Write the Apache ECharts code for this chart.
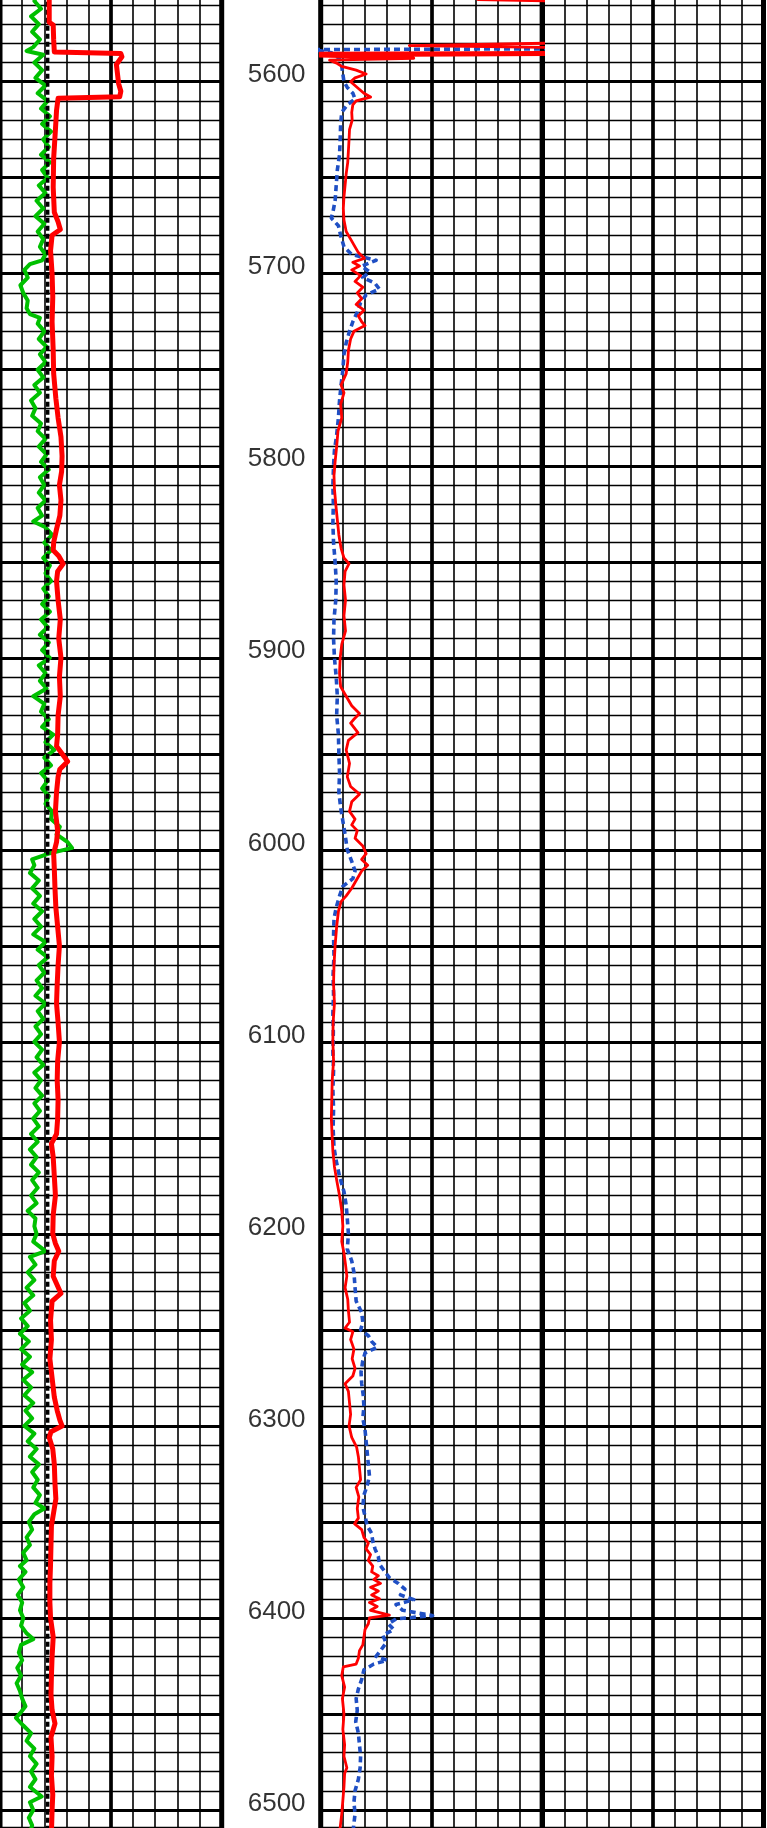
<!DOCTYPE html>
<html>
<head>
<meta charset="utf-8">
<script src="https://cdn.jsdelivr.net/npm/echarts@6/dist/echarts.min.js"></script>
<style>
  html, body { margin: 0; padding: 0; background: #fff; overflow: hidden; }
  body { position: relative; width: 767px; height: 1828px; }
  /* the log is cropped: the chart starts a little above the window */
  #chart { position: absolute; left: 0; top: -15px; width: 767px; height: 1846px; }
</style>
</head>
<body>
<div id="chart"></div>
<script>
// depth window of the grid (ft); the picture is cropped inside it
const depthTop = 5550
const depthBase = 6510
const depthMarks = [5600, 5700, 5800, 5900, 6000, 6100, 6200, 6300, 6400, 6500]

// all curves: [depth, value in chart divisions 0..10]
// track 1
const cutoffLine = [[5550, 2.15], [6510, 2.15]]
const track1Green = [
  [5554, 1.70], [5558, 1.55], [5562, 1.85], [5566, 1.40], [5570, 1.75], [5574, 1.45], [5578, 1.80], [5582, 1.50], [5584, 1.20], [5586, 1.95],
  [5590, 1.55], [5594, 1.90], [5598, 1.60], [5602, 2.05], [5606, 1.70], [5610, 2.15], [5614, 1.85], [5618, 2.25], [5622, 1.90], [5626, 2.30],
  [5630, 1.95], [5634, 2.20], [5638, 1.85], [5642, 2.25], [5646, 1.90], [5650, 2.15], [5654, 1.75], [5658, 2.05], [5662, 1.65], [5666, 1.95],
  [5670, 1.60], [5674, 2.00], [5678, 1.70], [5682, 1.95], [5686, 1.80], [5690, 2.05], [5693, 1.90], [5695, 1.35], [5698, 1.10], [5702, 1.25],
  [5706, 0.92], [5710, 1.05], [5714, 1.25], [5718, 1.20], [5721, 1.35], [5723, 1.80], [5726, 1.70], [5730, 2.00], [5734, 1.75], [5738, 2.10],
  [5742, 1.80], [5746, 2.05], [5750, 1.70], [5754, 1.95], [5758, 1.55], [5762, 1.80], [5766, 1.40], [5770, 1.60], [5774, 1.45], [5778, 1.85],
  [5782, 1.70], [5786, 2.05], [5790, 1.75], [5794, 2.10], [5798, 1.85], [5802, 2.20], [5806, 1.80], [5810, 2.00], [5814, 1.75], [5818, 2.05],
  [5822, 1.70], [5826, 1.90], [5829, 1.50], [5832, 2.05], [5836, 2.35], [5840, 2.00], [5844, 2.30], [5848, 1.95], [5852, 2.25], [5856, 2.05],
  [5860, 2.30], [5864, 1.95], [5868, 2.20], [5872, 1.90], [5876, 2.25], [5880, 1.85], [5884, 2.15], [5888, 1.80], [5892, 2.20], [5896, 1.90],
  [5900, 2.25], [5904, 1.75], [5908, 2.05], [5912, 1.80], [5916, 2.10], [5920, 1.50], [5924, 2.00], [5928, 1.85], [5932, 2.20], [5936, 1.90],
  [5940, 2.40], [5944, 2.05], [5948, 2.45], [5952, 2.00], [5956, 2.30], [5960, 1.85], [5964, 2.15], [5968, 1.90], [5972, 2.20], [5976, 2.05],
  [5980, 2.35], [5984, 2.30], [5988, 2.70], [5992, 2.55], [5996, 3.05], [5999, 3.25], [6002, 2.20], [6005, 1.45], [6008, 1.55], [6012, 1.35],
  [6016, 1.75], [6020, 1.45], [6024, 1.80], [6028, 1.50], [6032, 1.90], [6036, 1.55], [6040, 1.85], [6044, 1.50], [6048, 2.05], [6052, 1.70],
  [6056, 2.15], [6060, 1.75], [6064, 2.00], [6068, 1.65], [6072, 1.90], [6076, 1.60], [6080, 2.05], [6084, 1.70], [6088, 1.95], [6092, 1.60],
  [6096, 1.85], [6100, 1.55], [6104, 1.90], [6108, 1.65], [6112, 1.95], [6116, 1.55], [6120, 1.85], [6124, 1.60], [6128, 1.90], [6132, 1.55],
  [6136, 1.80], [6140, 1.50], [6144, 1.75], [6148, 1.40], [6152, 1.70], [6156, 1.35], [6160, 1.65], [6164, 1.40], [6168, 1.75], [6172, 1.45],
  [6176, 1.70], [6180, 1.40], [6184, 1.65], [6188, 1.25], [6192, 1.60], [6196, 1.55], [6200, 1.65], [6204, 1.50], [6209, 2.05], [6212, 1.35],
  [6216, 1.60], [6220, 1.25], [6224, 1.55], [6228, 1.20], [6232, 1.50], [6236, 1.10], [6240, 1.35], [6244, 0.95], [6248, 1.25], [6252, 0.90],
  [6256, 1.30], [6260, 0.95], [6264, 1.35], [6268, 1.00], [6272, 1.45], [6276, 1.05], [6280, 1.40], [6284, 1.10], [6288, 1.50], [6292, 1.15],
  [6296, 1.45], [6300, 1.10], [6304, 1.55], [6308, 1.25], [6312, 1.65], [6316, 1.35], [6320, 1.75], [6324, 1.45], [6328, 1.70], [6332, 1.50],
  [6336, 1.80], [6340, 1.60], [6343, 2.00], [6346, 1.55], [6350, 1.30], [6354, 1.45], [6358, 1.20], [6362, 1.35], [6366, 1.05], [6370, 1.20],
  [6373, 0.90], [6376, 1.15], [6380, 0.85], [6384, 1.05], [6388, 0.80], [6392, 1.00], [6396, 0.90], [6400, 1.05], [6404, 0.95], [6408, 1.20],
  [6411, 1.50], [6414, 0.95], [6418, 0.85], [6422, 1.00], [6426, 0.78], [6430, 0.95], [6434, 0.75], [6438, 0.90], [6442, 1.00], [6446, 1.15],
  [6449, 0.95], [6452, 0.72], [6456, 1.05], [6460, 1.40], [6464, 1.20], [6468, 1.55], [6472, 1.35], [6476, 1.65], [6480, 1.40], [6484, 1.60],
  [6488, 1.35], [6493, 1.88], [6496, 1.35], [6500, 1.50], [6504, 1.30], [6508, 1.45], [6512, 1.35]
]
const track1Red = [
  [5554, 2.22], [5569, 2.22], [5570.5, 2.40], [5578, 2.42], [5584.5, 2.45], [5585.3, 5.45], [5587, 5.50], [5591, 5.25], [5596, 5.30], [5601, 5.35],
  [5605, 5.45], [5607.8, 5.40], [5608.6, 2.62], [5615, 2.55], [5625, 2.50], [5640, 2.42], [5655, 2.40], [5668, 2.45], [5673, 2.62], [5677, 2.72],
  [5680, 2.35], [5688, 2.28], [5700, 2.35], [5712, 2.38], [5725, 2.35], [5740, 2.40], [5752, 2.42], [5765, 2.52], [5775, 2.62], [5785, 2.75],
  [5795, 2.80], [5803, 2.78], [5810, 2.68], [5818, 2.75], [5826, 2.70], [5833, 2.55], [5840, 2.42], [5844, 2.40], [5847, 2.65], [5851, 2.85],
  [5855, 2.60], [5860, 2.55], [5870, 2.62], [5880, 2.72], [5890, 2.65], [5900, 2.75], [5910, 2.68], [5920, 2.72], [5930, 2.62], [5940, 2.60],
  [5946, 2.55], [5950, 2.80], [5954, 3.05], [5958, 2.70], [5962, 2.62], [5970, 2.55], [5980, 2.50], [5990, 2.60], [5996, 2.55], [6002, 2.42],
  [6010, 2.45], [6020, 2.48], [6030, 2.52], [6040, 2.60], [6050, 2.68], [6060, 2.62], [6070, 2.58], [6080, 2.55], [6090, 2.62], [6100, 2.68],
  [6110, 2.60], [6120, 2.58], [6130, 2.62], [6140, 2.60], [6148, 2.55], [6153, 2.32], [6160, 2.40], [6170, 2.45], [6180, 2.50], [6190, 2.40],
  [6200, 2.38], [6205, 2.50], [6209, 2.65], [6214, 2.45], [6222, 2.40], [6231, 2.75], [6235, 2.35], [6245, 2.28], [6255, 2.32], [6265, 2.25],
  [6275, 2.35], [6285, 2.45], [6292, 2.58], [6297, 2.70], [6300, 2.80], [6303, 2.30], [6306, 2.22], [6312, 2.38], [6320, 2.45], [6330, 2.48],
  [6338, 2.52], [6345, 2.42], [6352, 2.32], [6362, 2.30], [6372, 2.28], [6382, 2.25], [6392, 2.25], [6400, 2.28], [6410, 2.40], [6420, 2.35],
  [6430, 2.32], [6440, 2.30], [6448, 2.35], [6455, 2.48], [6462, 2.30], [6472, 2.35], [6482, 2.32], [6492, 2.38], [6500, 2.35], [6512, 2.32]
]

// track 2 - values past 10 run off the track and get clipped
const track2Red = [
  [5555, 12], [5557.3, 7.1], [5558.3, 12], [5579.6, 12], [5581.2, 4.0], [5582.4, 12], [5584.6, 12], [5585.2, -0.5], [5585.8, 12], [5586.5, -0.5],
  [5587.8, 4.2], [5588.8, 0.4], [5590.5, 0.75], [5592, 0.95], [5594, 1.6], [5596, 2.05], [5598, 1.55], [5600, 1.35], [5603, 1.65], [5606, 1.95],
  [5608, 2.25], [5610, 1.6], [5612, 1.45], [5616, 1.40], [5620, 1.42], [5625, 1.30], [5630, 1.28], [5636, 1.25], [5642, 1.22], [5648, 1.15],
  [5654, 1.10], [5660, 1.05], [5666, 1.02], [5672, 1.05], [5678, 1.15], [5682, 1.35], [5686, 1.55], [5689, 1.70], [5692, 1.97], [5694, 1.45],
  [5696, 1.75], [5698, 1.40], [5701, 1.80], [5704, 1.55], [5707, 1.90], [5710, 1.65], [5713, 1.85], [5716, 1.60], [5719, 1.95], [5722, 1.70],
  [5725, 1.85], [5727, 2.00], [5730, 1.50], [5734, 1.35], [5740, 1.25], [5746, 1.22], [5752, 1.15], [5758, 0.92], [5762, 1.05], [5768, 0.90],
  [5775, 0.95], [5782, 0.78], [5790, 0.72], [5798, 0.65], [5805, 0.60], [5812, 0.62], [5820, 0.68], [5828, 0.75], [5836, 0.82], [5843, 0.92],
  [5848, 1.05], [5851, 1.28], [5855, 1.10], [5862, 1.05], [5870, 1.12], [5878, 1.05], [5886, 1.12], [5893, 0.95], [5900, 0.88], [5908, 0.85],
  [5915, 0.90], [5920, 1.15], [5925, 1.40], [5929, 1.75], [5932, 1.50], [5934, 1.35], [5939, 1.68], [5943, 1.25], [5948, 1.15], [5955, 1.30],
  [5962, 1.20], [5967, 1.35], [5971, 1.75], [5975, 1.40], [5980, 1.30], [5984, 1.55], [5987, 1.40], [5990, 1.65], [5994, 1.55], [5998, 1.90],
  [6002, 2.05], [6005, 1.85], [6008, 2.12], [6011, 1.85], [6016, 1.60], [6020, 1.40], [6024, 1.15], [6027, 0.92], [6032, 0.80], [6040, 0.72],
  [6050, 0.65], [6060, 0.60], [6070, 0.58], [6080, 0.62], [6090, 0.56], [6100, 0.55], [6110, 0.58], [6120, 0.52], [6130, 0.50], [6140, 0.48],
  [6150, 0.52], [6157, 0.55], [6165, 0.62], [6172, 0.72], [6180, 0.85], [6188, 0.95], [6196, 1.00], [6204, 0.95], [6210, 1.05], [6216, 1.12],
  [6222, 1.18], [6228, 1.10], [6234, 1.22], [6240, 1.25], [6246, 1.30], [6249, 1.10], [6251, 1.45], [6255, 1.35], [6260, 1.50], [6265, 1.42],
  [6270, 1.55], [6274, 1.45], [6278, 1.10], [6282, 1.25], [6288, 1.30], [6294, 1.35], [6300, 1.28], [6306, 1.40], [6311, 1.62], [6316, 1.70],
  [6322, 1.75], [6328, 1.80], [6332, 1.60], [6337, 1.72], [6343, 1.65], [6348, 1.70], [6351, 1.53], [6354, 1.85], [6358, 1.95], [6361, 2.15],
  [6364, 2.05], [6367, 2.25], [6370, 2.15], [6373, 2.35], [6376, 2.30], [6378, 2.60], [6380, 2.40], [6382, 2.70], [6384, 2.25], [6386, 2.60],
  [6388, 2.30], [6390, 2.65], [6392, 2.20], [6394, 2.55], [6396, 2.25], [6398.5, 3.10], [6400, 2.20], [6403, 2.15], [6406, 2.00], [6410, 1.95],
  [6414, 1.90], [6417, 1.75], [6421, 1.70], [6424, 1.60], [6425.5, 1.02], [6430, 0.95], [6436, 1.08], [6442, 0.98], [6450, 1.05], [6458, 1.00],
  [6466, 1.08], [6472, 1.05], [6478, 1.18], [6481, 1.08], [6488, 1.05], [6495, 1.00], [6502, 0.95], [6512, 0.85]
]
const track2Blue = [
  [5555, 12], [5582.8, 12], [5583.3, -0.3], [5585, 0.5], [5588, 0.85], [5592, 0.95], [5596, 1.00], [5600, 1.05], [5603, 1.20], [5606, 1.45],
  [5609, 1.55], [5612, 1.20], [5616, 0.95], [5622, 0.90], [5630, 0.88], [5638, 0.85], [5646, 0.75], [5654, 0.70], [5662, 0.65], [5668, 0.55],
  [5671, 0.48], [5675, 0.80], [5680, 0.90], [5686, 1.05], [5690, 1.40], [5693, 2.50], [5696, 1.85], [5699, 2.20], [5702, 1.90], [5705, 2.45],
  [5708, 2.65], [5711, 2.05], [5715, 1.80], [5720, 1.65], [5725, 1.45], [5730, 1.30], [5736, 1.15], [5742, 1.05], [5750, 1.00], [5758, 0.92],
  [5766, 0.85], [5775, 0.80], [5784, 0.72], [5792, 0.62], [5800, 0.58], [5810, 0.55], [5820, 0.57], [5830, 0.55], [5840, 0.58], [5850, 0.65],
  [5860, 0.70], [5870, 0.68], [5880, 0.60], [5890, 0.58], [5900, 0.62], [5910, 0.70], [5920, 0.75], [5930, 0.72], [5940, 0.80], [5950, 0.82],
  [5960, 0.85], [5970, 0.82], [5978, 0.90], [5985, 1.00], [5992, 1.10], [6000, 1.20], [6006, 1.40], [6011, 1.55], [6015, 1.45], [6019, 1.00],
  [6024, 0.85], [6030, 0.70], [6036, 0.60], [6045, 0.58], [6055, 0.60], [6065, 0.56], [6075, 0.58], [6085, 0.55], [6095, 0.57], [6105, 0.55],
  [6115, 0.58], [6125, 0.55], [6135, 0.58], [6145, 0.56], [6155, 0.60], [6162, 0.70], [6170, 0.85], [6178, 1.05], [6185, 1.15], [6192, 1.20],
  [6200, 1.25], [6208, 1.20], [6214, 1.40], [6220, 1.50], [6228, 1.55], [6235, 1.60], [6241, 1.85], [6246, 1.90], [6250, 1.80], [6253, 2.15],
  [6256, 2.30], [6259, 2.55], [6262, 2.00], [6266, 1.90], [6272, 1.82], [6278, 1.85], [6284, 1.92], [6290, 1.95], [6296, 1.90], [6302, 2.00],
  [6308, 2.05], [6314, 2.10], [6320, 2.15], [6326, 2.20], [6331, 2.10], [6336, 1.95], [6342, 1.90], [6347, 2.00], [6352, 2.10], [6356, 2.30],
  [6360, 2.35], [6364, 2.45], [6368, 2.60], [6372, 2.65], [6376, 2.90], [6379, 3.10], [6382, 3.50], [6385, 3.80], [6388, 3.60], [6390.5, 4.20],
  [6393, 3.40], [6396, 3.70], [6398.8, 5.05], [6400.5, 3.40], [6403, 3.05], [6406, 3.30], [6409, 2.80], [6413, 2.95], [6417, 2.70], [6420, 2.50],
  [6422, 3.00], [6424, 2.40], [6427, 1.95], [6432, 1.85], [6437, 1.70], [6442, 1.60], [6448, 1.65], [6454, 1.58], [6460, 1.70], [6466, 1.75],
  [6472, 1.80], [6478, 1.78], [6484, 1.70], [6490, 1.55], [6496, 1.50], [6502, 1.55], [6512, 1.45]
]

var myChart = echarts.init(document.getElementById('chart'), null, { renderer: 'canvas' })

// grid geometry in chart px (the chart div sits 15px above the page top)
const gridTop = 0.68
const gridHeight = 1843.53
const tracks = [
  { left: 0, width: 221.7 },
  { left: 320.7, width: 221.6 },
  { left: 542.3, width: 221.2 }
]
const hidden = { axisLine: { show: false }, axisTick: { show: false }, axisLabel: { show: false } }

const grids = []
const xAxes = []
const yAxes = []
tracks.forEach((t, i) => {
  grids.push({ left: t.left, width: t.width, top: gridTop, height: gridHeight, show: true, borderColor: '#000', borderWidth: 5, backgroundColor: 'transparent' })
  xAxes.push({ gridIndex: i, type: 'value', min: 0, max: 10, interval: 1, position: 'bottom', ...hidden,
    splitLine: { show: true, lineStyle: { color: '#000', width: 1.6 } } })
  xAxes.push({ gridIndex: i, type: 'value', min: 0, max: 10, interval: 5, position: 'top', ...hidden,
    splitLine: { show: true, lineStyle: { color: '#000', width: 3.7 } } })
  yAxes.push({ gridIndex: i, type: 'value', inverse: true, min: depthTop, max: depthBase, interval: 10, position: 'left', ...hidden,
    splitLine: { show: true, lineStyle: { color: '#000', width: 1.4 } } })
  yAxes.push({ gridIndex: i, type: 'value', inverse: true, min: depthTop, max: depthBase, interval: 50, position: 'right', ...hidden,
    splitLine: { show: true, lineStyle: { color: '#000', width: 3 } } })
})
// depth column between track 1 and track 2
grids.push({ left: 221.7, width: 99, top: gridTop, height: gridHeight })
xAxes.push({ gridIndex: 3, type: 'value', min: 0, max: 1, ...hidden, splitLine: { show: false } })
yAxes.push({ gridIndex: 3, type: 'value', inverse: true, min: depthTop, max: depthBase, ...hidden, splitLine: { show: false } })

function curve(name, data, track, color, width, dash, z) {
  return {
    name: name,
    type: 'line',
    xAxisIndex: track * 2,
    yAxisIndex: track * 2,
    data: data.map(p => [p[1], p[0]]),
    showSymbol: false,
    symbol: 'none',
    clip: true,
    z: z,
    lineStyle: { color: color, width: width, type: dash || 'solid', cap: 'butt', join: 'round' }
  }
}

const option = {
  animation: false,
  backgroundColor: '#fff',
  grid: grids,
  xAxis: xAxes,
  yAxis: yAxes,
  series: [
    curve('gamma', track1Green, 0, '#00C000', 4, null, 5),
    curve('cutoff', cutoffLine, 0, '#000', 3.5, [5, 3], 6),
    curve('track1 red', track1Red, 0, '#FF0000', 5, null, 7),
    curve('track2 blue', track2Blue, 1, '#1F4FC4', 3.6, [6, 4], 5),
    curve('track2 red', track2Red, 1, '#FF0000', 2.8, null, 6),
    {
      name: 'depth',
      type: 'scatter',
      xAxisIndex: 6,
      yAxisIndex: 6,
      symbolSize: 1,
      itemStyle: { color: 'transparent' },
      data: depthMarks.map(d => [0.555, d]),
      label: {
        show: true,
        position: 'inside',
        offset: [0, -6.5],
        formatter: p => String(p.value[1]),
        fontFamily: 'Liberation Sans, Arial, sans-serif',
        fontSize: 26,
        color: '#000'
      }
    }
  ]
}
myChart.setOption(option)
</script>
</body>
</html>
